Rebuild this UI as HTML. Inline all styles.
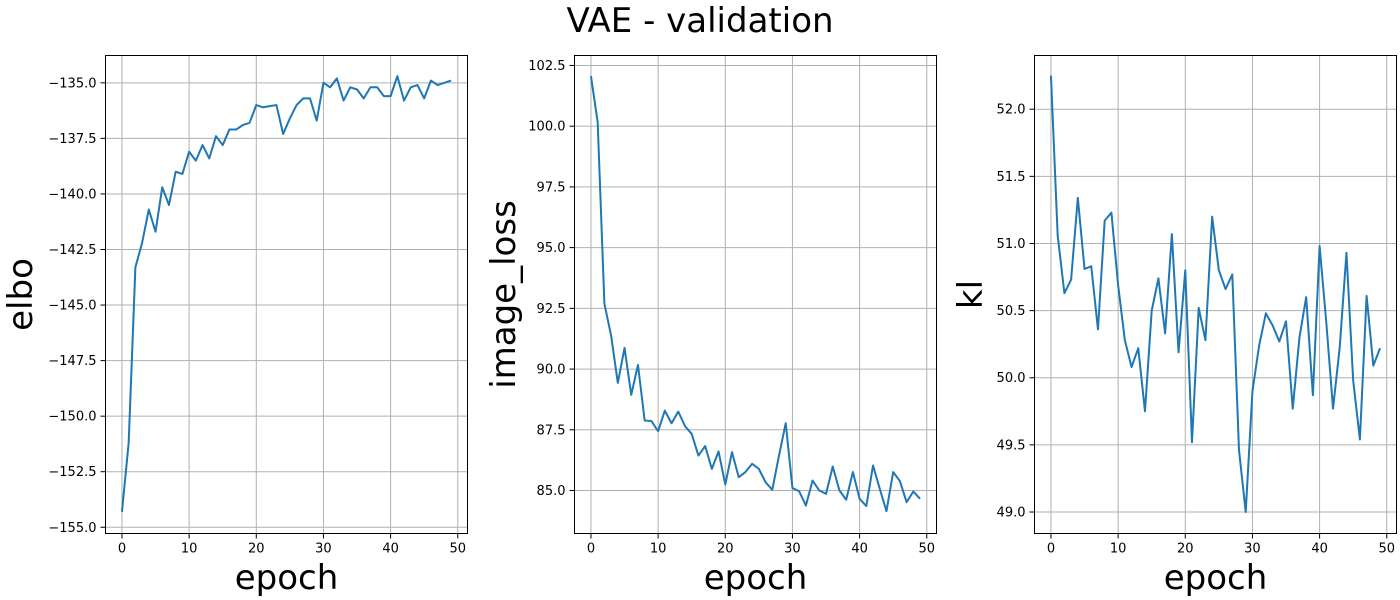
<!DOCTYPE html>
<html><head><meta charset="utf-8"><style>
html,body{margin:0;padding:0;background:#fff;}
svg{display:block;font-family:"DejaVu Sans","Liberation Sans",sans-serif;}
</style></head><body>
<svg id="chart" width="1400" height="600" viewBox="0 0 1400 600" xmlns="http://www.w3.org/2000/svg">
<rect width="1400" height="600" fill="#fff"/>
<text x="700" y="32" font-size="34" text-anchor="middle" fill="#000">VAE - validation</text>
</svg>
<script>
const epochs = Array.from({length:50},(_,i)=>i);
const elboValues = [-154.3,-151.2,-143.3,-142.2,-140.7,-141.7,-139.7,-140.5,-139.0,-139.1,-138.1,-138.5,-137.8,-138.4,-137.4,-137.8,-137.1,-137.1,-136.9,-136.8,-136.0,-136.1,-136.05,-136.0,-137.3,-136.6,-136.0,-135.7,-135.7,-136.7,-135.0,-135.2,-134.8,-135.8,-135.2,-135.3,-135.7,-135.2,-135.2,-135.6,-135.6,-134.7,-135.8,-135.2,-135.1,-135.7,-134.9,-135.1,-135.0,-134.9];
const imageLossValues = [102.06,100.17,92.69,91.38,89.43,90.87,88.94,90.17,87.88,87.86,87.44,88.29,87.77,88.25,87.65,87.33,86.44,86.83,85.89,86.61,85.25,86.58,85.55,85.76,86.10,85.89,85.34,85.03,86.44,87.77,85.10,84.97,84.38,85.41,85.0,84.86,85.99,85.0,84.62,85.76,84.66,84.36,86.03,85.07,84.15,85.76,85.39,84.52,84.96,84.66];
const klValues = [52.25,51.06,50.63,50.73,51.34,50.81,50.83,50.36,51.17,51.23,50.69,50.28,50.08,50.22,49.75,50.50,50.74,50.33,51.07,50.19,50.80,49.52,50.52,50.28,51.20,50.80,50.66,50.77,49.46,49.00,49.90,50.24,50.48,50.39,50.27,50.42,49.77,50.30,50.60,49.87,50.98,50.41,49.77,50.23,50.93,49.98,49.54,50.61,50.09,50.22];
const xTicks = [0,10,20,30,40,50];
const elboTicks = [-135.0,-137.5,-140.0,-142.5,-145.0,-147.5,-150.0,-152.5,-155.0];
const imageTicks = [102.5,100.0,97.5,95.0,92.5,90.0,87.5,85.0];
const klTicks = [52.0,51.5,51.0,50.5,50.0,49.5,49.0];

const NS="http://www.w3.org/2000/svg";
const svg=document.getElementById('chart');
function mk(tag,attrs,parent){const e=document.createElementNS(NS,tag);for(const k in attrs)e.setAttribute(k,attrs[k]);(parent||svg).appendChild(e);return e;}

const panels=[
 {name:'elbo',label:'elbo',vals:elboValues,ticks:elboTicks,left:105.5,right:467.5,ymin:-155.28,ymax:-133.77,labelX:32},
 {name:'image-loss',label:'image_loss',vals:imageLossValues,ticks:imageTicks,left:574.5,right:936.5,ymin:83.23,ymax:102.91,labelX:515},
 {name:'kl',label:'kl',vals:klValues,ticks:klTicks,left:1034.5,right:1396.5,ymin:48.84,ymax:52.40,labelX:982}
];
const plotTop=55.5,plotBottom=533.5,xmin=-2.45,xmax=51.45;
panels.forEach(p=>{
 const g=mk('g',{});
 
 
 const sx=v=>p.left+(v-xmin)/(xmax-xmin)*(p.right-p.left);
 const sy=v=>plotBottom-(v-p.ymin)/(p.ymax-p.ymin)*(plotBottom-plotTop);
 xTicks.forEach(t=>{
  const l=mk('line',{x1:sx(t),x2:sx(t),y1:plotTop,y2:plotBottom,stroke:'#b0b0b0','stroke-width':1},g);
  
  
  mk('line',{x1:sx(t),x2:sx(t),y1:plotBottom,y2:plotBottom+5,stroke:'#000','stroke-width':1},g);
  const tx=mk('text',{x:sx(t),y:plotBottom+19,'font-size':13,'text-anchor':'middle',fill:'#000'},g);
  tx.textContent=t;
  
  
 });
 p.ticks.forEach(t=>{
  const l=mk('line',{x1:p.left,x2:p.right,y1:sy(t),y2:sy(t),stroke:'#b0b0b0','stroke-width':1},g);
  
  
  mk('line',{x1:p.left-5,x2:p.left,y1:sy(t),y2:sy(t),stroke:'#000','stroke-width':1},g);
  const tx=mk('text',{x:p.left-9,y:sy(t)+4.5,'font-size':13,'text-anchor':'end',fill:'#000'},g);
  tx.textContent=t.toFixed(1).replace('-','\u2212');
  
  
 });
 const d=p.vals.map((v,i)=>(i?'L':'M')+sx(epochs[i]).toFixed(2)+' '+sy(v).toFixed(2)).join(' ');
 const path=mk('path',{d:d,fill:'none',stroke:'#1f77b4','stroke-width':2,'stroke-linejoin':'round'},g);
 
 
 const fr=mk('rect',{x:p.left,y:plotTop,width:p.right-p.left,height:plotBottom-plotTop,fill:'none',stroke:'#000','stroke-width':1},g);
 
 
 const xl=mk('text',{x:(p.left+p.right)/2,y:589,'font-size':34,'text-anchor':'middle',fill:'#000'},g);
 xl.textContent='epoch';
 
 
 const cy=(plotTop+plotBottom)/2;
 const yl=mk('text',{x:p.labelX,y:cy,'font-size':34,'text-anchor':'middle',fill:'#000',transform:'rotate(-90 '+p.labelX+' '+cy+')'},g);
 yl.textContent=p.label;
 
 
});
</script>
</body></html>
